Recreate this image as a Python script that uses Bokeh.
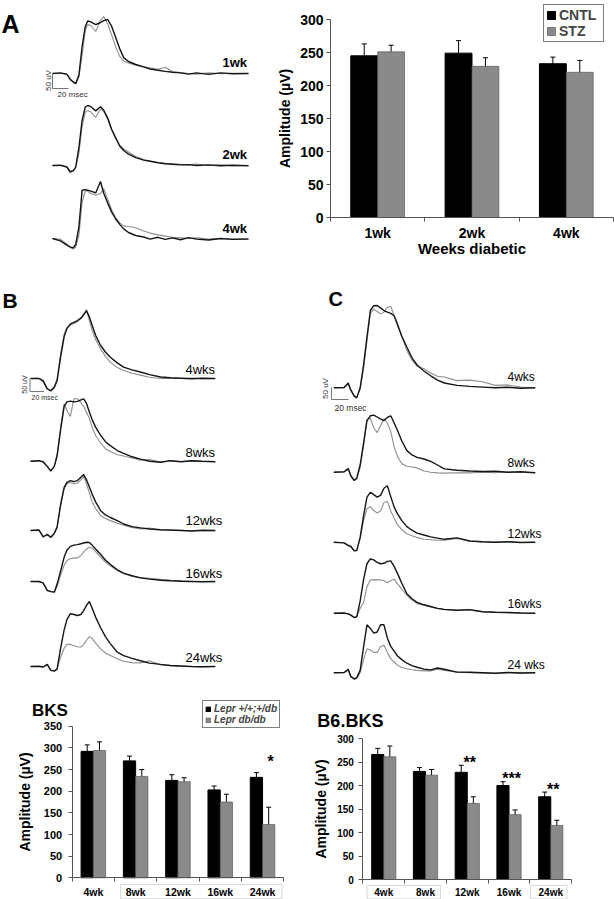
import numpy as np
from math import pi
from bokeh.plotting import figure
from bokeh.layouts import column, row
from bokeh.models import (Range1d, FixedTicker, Label, Legend, LegendItem,
                          Whisker, TeeHead, ColumnDataSource, BoxAnnotation)
from bokeh.core.properties import value
from bokeh.embed import file_html
from bokeh.resources import INLINE

# ======================= DATA =======================
# Panel A: averaged VEP-like traces (time in ms, amplitude in µV)
A_time = [0, 10, 18, 22, 26, 29, 33, 37, 41, 44, 48, 54, 60, 64, 69, 74, 79, 84, 89, 95,
          104, 114, 122, 132, 141, 150, 160, 170, 180, 195, 210, 225, 245]
A_trace_labels = ["1wk", "2wk", "4wk"]
A_cntl_1wk = [0, 2, -2, -20, -28, -33, -5, 90, 157, 175, 172, 163, 170, 176, 180, 157, 120, 83, 53, 40,
              30, 22, 15, 11, 7, 4, 2, -2, 2, -3, 2, -1, 0]
A_stz_1wk = [0, 0, -3, -15, -30, -35, -12, 60, 143, 163, 160, 140, 177, 190, 165, 128, 88, 57, 42, 35,
             28, 22, 18, 14, 21, 6, 3, 0, -2, 2, -1, 1, 0]
A_cntl_2wk = [0, 1, -5, -20, -18, -5, 60, 150, 195, 200, 196, 182, 196, 185, 158, 120, 92, 65, 50, 38,
              26, 18, 14, 9, 6, 4, 2, 3, 0, 2, -1, 1, -1]
A_stz_2wk = [0, -1, -6, -25, -15, -8, 40, 130, 178, 183, 178, 160, 188, 180, 155, 118, 90, 68, 55, 45,
             30, 20, 15, 10, 7, 6, 4, 2, 5, 0, 2, -1, 0]
A_cntl_4wk = [0, -8, -22, -28, -31, -20, 38, 161, 163, 161, 158, 152, 190, 151, 118, 88, 65, 47, 32, 20,
              10, 5, -2, 4, -3, 2, -4, 3, -2, -5, 0, -3, -2]
A_stz_4wk = [0, -3, -18, -30, -35, -28, 10, 120, 160, 158, 150, 145, 150, 166, 130, 95, 70, 52, 42, 40,
             36, 25, 18, 12, 8, 4, 2, 0, 2, -2, 0, -2, 0]

# Panel A: bar chart
A_weeks = ["1wk", "2wk", "4wk"]
A_cntl_amp = [245, 249, 233]
A_cntl_sem = [18, 19, 10]
A_stz_amp = [251, 229, 220]
A_stz_sem = [10, 13, 18]

# Panel B: BKS traces
B_time = [0, 12, 18, 24, 29, 34, 38, 43, 48, 52, 57, 62, 67, 72, 76, 80, 84, 88, 93, 100,
          107, 114, 124, 133, 145, 157, 170, 186, 200, 215, 230, 245, 264]
B_trace_labels = ["4wks", "8wks", "12wks", "16wks", "24wks"]
B_wt = [
    [0, 0, -10, -40, -48, -35, -8, 82, 160, 192, 210, 216, 223, 232, 245, 260, 238, 205, 166, 128,
     102, 82, 60, 44, 33, 25, 15, 6, 3, 1, -1, 1, 0],
    [0, 2, -2, -20, -38, -20, 20, 120, 210, 228, 231, 228, 230, 236, 240, 222, 190, 160, 131, 100,
     75, 60, 41, 30, 17, 8, 0, -4, 2, -2, 2, 0, -2],
    [0, 2, -25, -15, -26, -10, 13, 100, 165, 185, 192, 188, 192, 205, 215, 195, 168, 140, 110, 77,
     60, 50, 38, 25, 15, 10, 6, 3, 2, 0, -2, 1, 0],
    [0, 0, -5, -35, -39, -41, -10, 40, 93, 120, 135, 140, 142, 145, 148, 151, 150, 140, 125, 105,
     83, 66, 45, 32, 22, 14, 9, 5, 3, 1, 0, -1, 0],
    [0, 1, -2, 8, -15, -18, -10, 70, 140, 180, 203, 200, 196, 200, 215, 235, 250, 225, 190, 150,
     115, 88, 55, 42, 31, 22, 13, 8, 4, 2, 0, -1, 0],
]
B_db = [
    [0, 1, -5, -38, -45, -30, -2, 95, 170, 195, 205, 212, 218, 230, 250, 265, 225, 185, 150, 114,
     85, 63, 42, 31, 20, 13, 5, 0, 1, 0, 2, -1, 0],
    [0, 1, -3, -22, -36, -18, 25, 130, 221, 195, 172, 240, 240, 225, 210, 188, 165, 130, 99, 70,
     48, 37, 25, 20, 12, 4, 6, -3, 1, -1, 1, 0, -1],
    [0, 1, -20, -18, -28, -12, 10, 95, 160, 180, 185, 180, 182, 195, 208, 180, 145, 110, 85, 58,
     46, 38, 28, 20, 12, 6, 9, 2, 0, 1, -1, 0, -1],
    [0, -1, -5, -32, -38, -40, -20, 25, 62, 81, 88, 90, 91, 100, 113, 125, 132, 128, 115, 94,
     75, 60, 42, 30, 20, 15, 12, 8, 5, 3, 1, 0, -1],
    [0, 0, -2, 6, -14, -16, -8, 35, 70, 85, 85, 80, 76, 75, 85, 100, 115, 108, 90, 68,
     52, 42, 30, 20, 15, 14, 22, 6, 3, 1, 0, -1, 0],
]

# Panel C: B6.BKS traces
C_time = [0, 12, 17, 20, 24, 27, 31, 35, 39, 43, 47, 51, 55, 59, 63, 67, 71, 75, 80, 86,
          92, 98, 106, 114, 122, 130, 145, 160, 175, 190, 205, 220, 237]
C_trace_labels = ["4wks", "8wks", "12wks", "16wks", "24 wks"]
C_wt = [
    [0, 1, 20, -10, -35, -42, 0, 95, 211, 322, 342, 343, 333, 322, 315, 310, 300, 262, 215, 169,
     125, 95, 70, 50, 32, 20, 10, 6, 3, 0, 2, -2, 0],
    [0, 2, 15, -15, -35, -25, 30, 120, 215, 235, 238, 230, 222, 215, 228, 235, 205, 174, 130, 90,
     72, 62, 55, 45, 30, 14, 8, 5, 3, 4, 0, 2, -2],
    [0, -3, -14, -18, -36, -35, 20, 110, 188, 208, 198, 188, 195, 225, 235, 190, 146, 118, 90, 65,
     50, 38, 30, 22, 17, 12, 18, 5, 2, 0, 2, -1, 0],
    [0, 1, -3, -8, -18, -15, 50, 140, 206, 226, 222, 212, 206, 208, 216, 218, 195, 165, 125, 81,
     60, 45, 35, 28, 20, 16, 12, 15, 6, 4, 3, 1, 0],
    [0, 1, 15, -15, -25, -20, 10, 107, 200, 185, 165, 170, 200, 200, 145, 110, 90, 70, 55, 40,
     30, 23, 15, 12, 20, 15, 3, 2, 0, -2, 1, -1, 0],
]
C_db = [
    [0, 0, 15, -8, -32, -40, -5, 80, 195, 310, 328, 318, 308, 315, 335, 340, 300, 267, 215, 155,
     115, 90, 79, 62, 48, 45, 30, 32, 25, 10, 12, 3, 0],
    [0, 1, 10, -12, -32, -28, 20, 110, 220, 225, 185, 165, 195, 222, 205, 170, 105, 65, 35, 25,
     22, 18, 5, 0, -3, -4, -2, -3, 0, -2, 1, -1, -2],
    [0, -2, -12, -16, -34, -34, 15, 90, 140, 148, 132, 122, 130, 165, 170, 130, 100, 72, 52, 35,
     27, 20, 12, 10, 8, 8, 16, 4, 1, 0, 1, -1, 0],
    [0, 0, -3, -7, -17, -15, 20, 45, 110, 138, 140, 139, 139, 135, 127, 135, 142, 122, 100, 74,
     55, 40, 33, 26, 20, 15, 12, 13, 6, 4, 2, 1, 0],
    [0, 0, 10, -18, -28, -25, 0, 55, 100, 95, 85, 85, 110, 115, 85, 58, 45, 32, 22, 17,
     13, 10, 8, 8, 15, 10, 2, 0, -1, -2, 0, -1, 0],
]

# Bottom bar charts
BAR_weeks = ["4wk", "8wk", "12wk", "16wk", "24wk"]
BKS_wt_amp = [292, 270, 225, 203, 232]
BKS_wt_sem = [15, 11, 13, 9, 11]
BKS_db_amp = [294, 234, 222, 175, 123]
BKS_db_sem = [20, 16, 9, 18, 40]
BKS_sig = ["", "", "", "", "*"]
B6_wt_amp = [266, 230, 228, 200, 176]
B6_wt_sem = [13, 8, 15, 8, 10]
B6_db_amp = [261, 222, 162, 138, 115]
B6_db_sem = [23, 12, 14, 10, 11]
B6_sig = ["", "", "**", "***", "**"]

# ======================= STYLE / LAYOUT =======================
FONT = "Liberation Sans"
BLACK_TR = "#151515"
GRAY_TR = "#8e8e8e"
GRAY_BAR = "#8a8a8a"
AXC = "#555555"
SB_C = "#777777"
TXT_SB = "#333333"


def trace_fig(W, H, R0, R1, Q0, Q1, x0, kx, ky):
    p = figure(width=W, height=H,
               x_range=Range1d((R0 - x0) / kx, (R1 - x0) / kx),
               y_range=Range1d(-Q1 / ky, -Q0 / ky),
               toolbar_location=None, output_backend="svg", min_border=0,
               x_axis_location=None, y_axis_location=None, outline_line_color=None)
    p.grid.visible = False
    X = lambda xr: (xr - x0) / kx
    Y = lambda yr: -yr / ky
    return p, X, Y


def add_label(p, x, y, text, size, style="normal", align="left", angle=0.0, color="black",
              baseline="middle"):
    p.add_layout(Label(x=x, y=y, text=text, text_font=FONT, text_font_size=size,
                       text_font_style=style, text_align=align, text_baseline=baseline,
                       angle=angle, text_color=color))


def add_traces(p, Y, time, wt_list, db_list, bases):
    t = np.array(time, dtype=float)
    for wt, db, b in zip(wt_list, db_list, bases):
        p.line(t, np.array(db, dtype=float) + Y(b), line_color=GRAY_TR, line_width=1.1)
        p.line(t, np.array(wt, dtype=float) + Y(b), line_color=BLACK_TR, line_width=1.4)


def add_scalebar(p, X, Y, xr, top, ms=20, uv=50):
    x = X(xr)
    p.line([x, x, x + ms], [Y(top), Y(top) - uv, Y(top) - uv], line_color=SB_C, line_width=1)


# ---------- Panel A traces ----------
pA, XA, YA = trace_fig(268, 268, 0, 268, 0, 268, 52, 0.8, 0.3)
A_bases = [73, 165, 238]
add_traces(pA, YA, A_time, [A_cntl_1wk, A_cntl_2wk, A_cntl_4wk],
           [A_stz_1wk, A_stz_2wk, A_stz_4wk], A_bases)
for lab, ly in zip(A_trace_labels, [62, 154, 228]):
    add_label(pA, XA(222), YA(ly), lab, "13px", "bold")
add_scalebar(pA, XA, YA, 52, 73)
add_label(pA, XA(48), YA(80), "50 uV", "8px", align="center", angle=pi / 2, color=TXT_SB)
add_label(pA, XA(57), YA(94), "20 msec", "8px", color=TXT_SB)
add_label(pA, XA(1), YA(23.5), "A", "25px", "bold", baseline="alphabetic")


# ---------- bar chart helper (frame covers whole figure; axes fixed at 0) ----------
def bar_fig(W, H, ref_box, origin, cx, uy, cats, ymax, ystep, v1, e1, v2, e2, bw,
            ytick_fs, xtick_fs, ylab_fs, ytick_stand, ylab_stand, xtick_stand):
    R0, R1, Q0, Q1 = ref_box
    ox, oy = origin
    p = figure(width=W, height=H,
               x_range=Range1d((R0 - ox) / cx, (R1 - ox) / cx),
               y_range=Range1d((oy - Q1) / uy, (oy - Q0) / uy),
               toolbar_location=None, output_backend="svg", min_border=0,
               outline_line_color=None)
    p.grid.visible = False
    n = len(cats)
    centers = np.arange(n) + 0.5
    r1 = p.vbar(x=centers - bw / 2, top=v1, width=bw, fill_color="black", line_color="black")
    r2 = p.vbar(x=centers + bw / 2, top=v2, width=bw, fill_color=GRAY_BAR,
                line_color="#5a5a5a", line_width=0.7)
    for xs, v, e in ((centers - bw / 2, v1, e1), (centers + bw / 2, v2, e2)):
        v = np.array(v, dtype=float)
        e = np.array(e, dtype=float)
        src = ColumnDataSource(dict(base=xs, upper=v + e, lower=v - e))
        p.add_layout(Whisker(source=src, base="base", upper="upper", lower="lower",
                             line_color="black", line_width=1,
                             upper_head=TeeHead(size=5, line_color="black", line_width=1),
                             lower_head=TeeHead(size=5, line_color="black", line_width=1)))
    xa = p.xaxis[0]
    ya = p.yaxis[0]
    xa.fixed_location = 0
    xa.bounds = (0, n)
    ya.fixed_location = 0
    ya.bounds = (0, ymax)
    xa.ticker = FixedTicker(ticks=[float(c) for c in centers],
                            minor_ticks=[float(i) for i in range(n + 1)])
    xa.major_label_overrides = {float(c): lab for c, lab in zip(centers, cats)}
    xa.major_tick_in = 0
    xa.major_tick_out = 0
    xa.minor_tick_in = 0
    xa.minor_tick_out = 4
    xa.minor_tick_line_color = AXC
    xa.axis_line_color = AXC
    xa.major_label_text_font = FONT
    xa.major_label_text_font_style = "bold"
    xa.major_label_text_font_size = xtick_fs
    xa.major_label_text_color = "black"
    xa.major_label_standoff = xtick_stand
    ya.ticker = FixedTicker(ticks=list(range(0, ymax + 1, ystep)))
    ya.major_tick_in = 0
    ya.major_tick_out = 4
    ya.minor_tick_in = 0
    ya.minor_tick_out = 0
    ya.major_tick_line_color = AXC
    ya.axis_line_color = AXC
    ya.major_label_text_font = FONT
    ya.major_label_text_font_style = "bold"
    ya.major_label_text_font_size = ytick_fs
    ya.major_label_text_color = "black"
    ya.major_label_standoff = ytick_stand
    ya.axis_label = "Amplitude (µV)"
    ya.axis_label_text_font = FONT
    ya.axis_label_text_font_style = "bold"
    ya.axis_label_text_font_size = ylab_fs
    ya.axis_label_text_color = "black"
    ya.axis_label_standoff = ylab_stand
    return p, r1, r2, centers


# ---------- Panel A bars ----------
pAb, rA1, rA2, cA = bar_fig(346, 268, (268, 614, 0, 268), (330, 217), 94.33, 0.66,
                            A_weeks, 300, 50, A_cntl_amp, A_cntl_sem, A_stz_amp, A_stz_sem,
                            0.285, "14px", "14px", "14px", 3, 4, 3)
xaA = pAb.xaxis[0]
xaA.axis_label = "Weeks diabetic"
xaA.axis_label_text_font = FONT
xaA.axis_label_text_font_style = "bold"
xaA.axis_label_text_font_size = "15px"
xaA.axis_label_text_color = "black"
xaA.axis_label_standoff = -4
legA = Legend(items=[LegendItem(label="CNTL", renderers=[rA1]),
                     LegendItem(label="STZ", renderers=[rA2])],
              location=(275, 226), label_text_font=FONT, label_text_font_style="bold",
              label_text_font_size="14px", label_text_line_height=0.8,
              glyph_width=10, glyph_height=10, label_width=42,
              label_height=12, label_standoff=3, spacing=-2, padding=2, margin=0,
              border_line_color="black", border_line_width=1)
pAb.add_layout(legA)

# ---------- Panel B traces ----------
pB, XB, YB = trace_fig(300, 420, 0, 300, 268, 688, 30, 0.7, 0.26)
B_bases = [378, 460.7, 530, 581, 666]
add_traces(pB, YB, B_time, B_wt, B_db, B_bases)
for lab, ly in zip(B_trace_labels, [369, 452, 520, 573, 657]):
    add_label(pB, XB(185), YB(ly), lab, "13px")
add_scalebar(pB, XB, YB, 29.5, 378)
add_label(pB, XB(24), YB(384), "50 uV", "7px", align="center", angle=pi / 2, color=TXT_SB)
add_label(pB, XB(31), YB(397), "20 msec", "7px", color=TXT_SB)
add_label(pB, XB(2), YB(300), "B", "21px", "bold", baseline="alphabetic")

# ---------- Panel C traces ----------
pC, XC, YC = trace_fig(314, 420, 300, 614, 268, 688, 333.3, 0.85, 0.24)
C_bases = [387.3, 471.7, 541.7, 612.7, 672.3]
add_traces(pC, YC, C_time, C_wt, C_db, C_bases)
for lab, ly in zip(C_trace_labels, [376, 462, 533, 603, 664]):
    add_label(pC, XC(507), YC(ly), lab, "12px")
add_scalebar(pC, XC, YC, 331, 387)
add_label(pC, XC(325), YC(388), "50 uV", "8px", align="center", angle=pi / 2, color=TXT_SB)
add_label(pC, XC(334), YC(407), "20 msec", "8.5px", color=TXT_SB)
add_label(pC, XC(328), YC(298.5), "C", "20px", "bold", baseline="alphabetic")

# ---------- BKS bars ----------
pK, rK1, rK2, cK = bar_fig(300, 211, (0, 300, 688, 899), (71.7, 877.3), 42.3, 0.433,
                           BAR_weeks, 350, 50, BKS_wt_amp, BKS_wt_sem, BKS_db_amp, BKS_db_sem,
                           0.29, "11px", "10.5px", "14px", 6, 8, 4)
legK = Legend(items=[LegendItem(label="Lepr +/+;+/db", renderers=[rK1]),
                     LegendItem(label="Lepr db/db", renderers=[rK2])],
              location=(202, 171), label_text_font=FONT, label_text_font_style="bold italic",
              label_text_font_size="10px", glyph_width=6, glyph_height=6,
              label_height=10, label_standoff=3, spacing=0, padding=2, margin=0,
              border_line_color="black", border_line_width=1)
pK.add_layout(legK)
pK.add_layout(Label(x=-0.525, y=386, text="BKS", text_font=FONT, text_font_size="17px",
                    text_font_style="bold", text_align="center", text_baseline="middle",
                    text_color="black"))
pK.add_layout(BoxAnnotation(left=1.14, right=4.96, top=-15.5, bottom=-48,
                            fill_color=None, line_color="#888888", line_width=1))

# ---------- B6.BKS bars ----------
pS, rS1, rS2, cS = bar_fig(314, 211, (300, 614, 688, 899), (362.4, 879), 41.75, 0.47,
                           BAR_weeks, 300, 50, B6_wt_amp, B6_wt_sem, B6_db_amp, B6_db_sem,
                           0.29, "10px", "10px", "14px", 5, 5, 3)
pS.add_layout(Label(x=-0.30, y=338, text="B6.BKS", text_font=FONT, text_font_size="18px",
                    text_font_style="bold", text_align="center", text_baseline="middle",
                    text_color="black"))
pS.add_layout(BoxAnnotation(left=0.10, right=1.86, top=-12.8, bottom=-41,
                            fill_color=None, line_color="#888888", line_width=1))
pS.add_layout(BoxAnnotation(left=4.01, right=4.89, top=-12.8, bottom=-41,
                            fill_color=None, line_color="#888888", line_width=1))


def add_stars(p, centers, sig, v1, e1, v2, e2, dx, pad, ppu):
    xs, ys, ts = [], [], []
    for c, s, a, ea, b, eb in zip(centers, sig, v1, e1, v2, e2):
        if s:
            xs.append(c + dx)
            ys.append(max(a + ea, b + eb) + pad - 4 / ppu)
            ts.append(s)
    p.text(x=xs, y=ys, text=ts, text_font=value(FONT), text_font_size="16px",
           text_font_style="bold", text_align="center", text_baseline="middle",
           text_color="black")


add_stars(pK, cK, BKS_sig, BKS_wt_amp, BKS_wt_sem, BKS_db_amp, BKS_db_sem, 0.19, 35, 0.433)
add_stars(pS, cS, B6_sig, B6_wt_amp, B6_wt_sem, B6_db_amp, B6_db_sem, 0.06, 15, 0.47)

layout = column(row(pA, pAb), row(pB, pC), row(pK, pS))
open("out.html", "w").write(file_html(layout, INLINE))
